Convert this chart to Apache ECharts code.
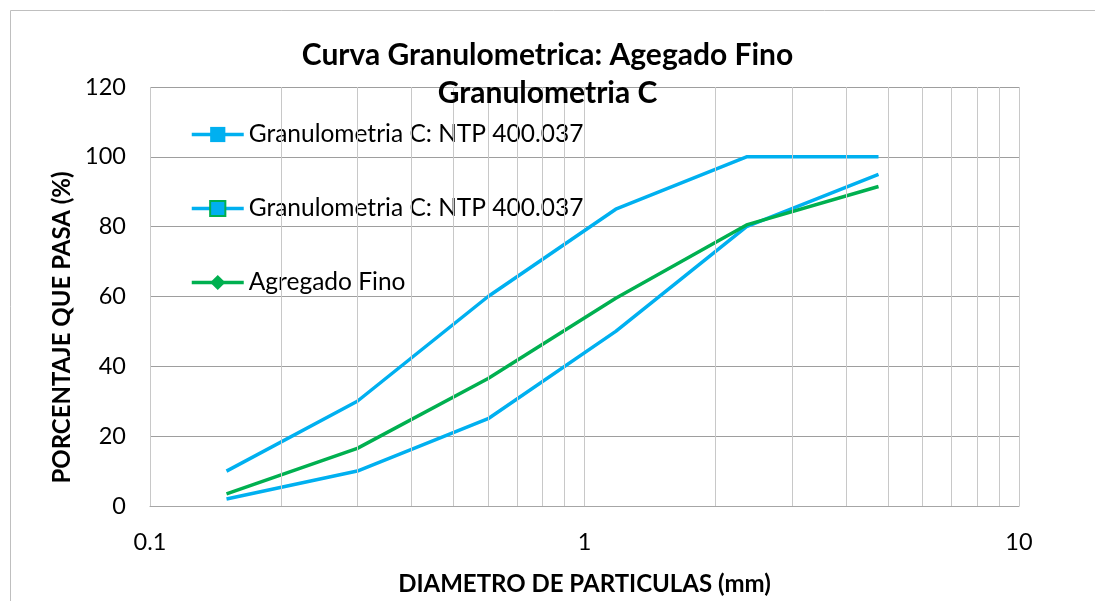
<!DOCTYPE html>
<html>
<head>
<meta charset="utf-8">
<script src="https://cdn.jsdelivr.net/npm/echarts@6/dist/echarts.min.js"></script>
<style>
  html, body { margin: 0; padding: 0; background: #fff; }
  #container { width: 1095px; height: 601px; }
</style>
</head>
<body>
<div id="container"></div>
<script>
  // tamices (mm)
  var diametros = [0.15, 0.3, 0.6, 1.18, 2.36, 4.75]
  var limiteSuperior = [10, 30, 60, 85, 100, 100]
  var limiteInferior = [2, 10, 25, 50, 80, 95]
  var agregadoFino = [3.5, 16.5, 36.5, 59.5, 80.5, 91.5]
  // lineas secundarias del eje logaritmico
  var lineasMenores = [0.2, 0.3, 0.4, 0.5, 0.6, 0.7, 0.8, 0.9, 2, 3, 4, 5, 6, 7, 8, 9]

  var nombreLimite = 'Granulometria C: NTP 400.037'
  var azul = '#00B0F0'
  var verde = '#00B050'
  var fuente = 'Lato'

  function pares(xs, ys) {
    return xs.map(function (x, i) { return [x, ys[i]] })
  }

  var myChart = echarts.init(document.getElementById('container'))
  myChart.setOption({
    textStyle: { fontFamily: fuente },
    title: {
      text: 'Curva Granulometrica: Agegado Fino\nGranulometria C',
      left: 'center',
      top: 31,
      textStyle: {
        fontFamily: fuente,
        fontWeight: 'bold',
        fontSize: 30,
        lineHeight: 38,
        color: '#000'
      }
    },
    graphic: [{
      type: 'rect',
      shape: { x: 10.5, y: 10.5, width: 1200, height: 700 },
      style: { fill: 'none', stroke: '#bfbfbf', lineWidth: 1 },
      silent: true
    }],
    legend: {
      orient: 'vertical',
      left: 185,
      top: 117,
      itemGap: 49,
      itemWidth: 52,
      itemHeight: 19,
      lineStyle: { width: 3.5 },
      textStyle: { fontFamily: fuente, fontSize: 24.5, color: '#000' },
      data: [
        { name: nombreLimite + ' ' },
        { name: nombreLimite },
        { name: 'Agregado Fino' }
      ]
    },
    grid: {
      left: 150,
      right: 76,
      top: 87,
      bottom: 93
    },
    xAxis: {
      type: 'log',
      logBase: 10,
      min: 0.1,
      max: 10,
      name: 'DIAMETRO DE PARTICULAS (mm)',
      nameLocation: 'middle',
      nameGap: 66,
      nameTextStyle: { fontFamily: fuente, fontWeight: 'bold', fontSize: 24, color: '#000' },
      axisLine: { onZero: false, lineStyle: { color: '#a6a6a6', width: 1 } },
      axisTick: { show: false },
      axisLabel: { fontSize: 23.5, color: '#000', margin: 24 },
      splitLine: { show: true, lineStyle: { color: '#c8c8c8', width: 1 } }
    },
    yAxis: {
      type: 'value',
      min: 0,
      max: 120,
      interval: 20,
      name: 'PORCENTAJE QUE PASA (%)',
      nameLocation: 'middle',
      nameGap: 68,
      nameTextStyle: {
        fontFamily: fuente, fontWeight: 'bold', fontSize: 24, color: '#000',
        padding: [0, 62, 0, 0]
      },
      axisLine: { show: false },
      axisTick: { show: false },
      axisLabel: { fontSize: 23.5, color: '#000', margin: 24 },
      splitLine: { show: true, lineStyle: { color: '#9e9e9e', width: 1 } }
    },
    series: [{
      name: nombreLimite + ' ',
      type: 'line',
      data: pares(diametros, limiteSuperior),
      symbol: 'rect',
      showSymbol: false,
      lineStyle: { color: azul, width: 3.5 },
      itemStyle: { color: azul },
      z: 3,
      markLine: {
        silent: true,
        symbol: 'none',
        label: { show: false },
        lineStyle: { color: '#c8c8c8', type: 'solid', width: 1 },
        emphasis: { disabled: true },
        data: lineasMenores.map(function (v) { return { xAxis: v } })
      }
    }, {
      name: nombreLimite,
      type: 'line',
      data: pares(diametros, limiteInferior),
      symbol: 'rect',
      showSymbol: false,
      lineStyle: { color: azul, width: 3.5 },
      itemStyle: { color: azul, borderColor: verde, borderWidth: 2 },
      z: 3
    }, {
      name: 'Agregado Fino',
      type: 'line',
      data: pares(diametros, agregadoFino),
      symbol: 'diamond',
      showSymbol: false,
      lineStyle: { color: verde, width: 3.5 },
      itemStyle: { color: verde },
      z: 4
    }]
  })
</script>
</body>
</html>
